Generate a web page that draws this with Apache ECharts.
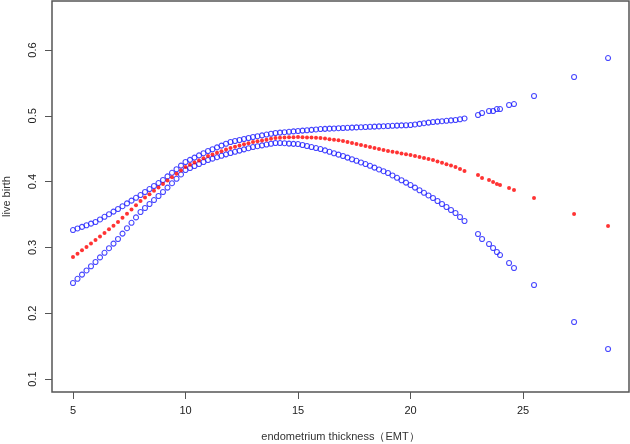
<!DOCTYPE html>
<html>
<head>
<meta charset="utf-8">
<script src="https://cdn.jsdelivr.net/npm/echarts@6/dist/echarts.min.js"></script>
<style>html,body{margin:0;padding:0;background:#fff;}#c{width:630px;height:444px;}</style>
</head>
<body>
<div id="c"></div>
<script>
// EMT values (x)
var emt = [5.0,5.2,5.4,5.6,5.8,6.0,6.2,6.4,6.6,6.8,7.0,7.2,7.4,7.6,7.8,8.0,8.2,8.4,8.6,8.8,
  9.0,9.2,9.4,9.6,9.8,10.0,10.2,10.4,10.6,10.8,11.0,11.2,11.4,11.6,11.8,12.0,12.2,12.4,12.6,12.8,
  13.0,13.2,13.4,13.6,13.8,14.0,14.2,14.4,14.6,14.8,15.0,15.2,15.4,15.6,15.8,16.0,16.2,16.4,16.6,16.8,
  17.0,17.2,17.4,17.6,17.8,18.0,18.2,18.4,18.6,18.8,19.0,19.2,19.4,19.6,19.8,20.0,20.2,20.4,20.6,20.8,
  21.0,21.2,21.4,21.6,21.8,22.0,22.2,22.4,
  23.0,23.18,23.49,23.67,23.84,23.98,24.38,24.6,25.49,27.27,28.78];
// fitted live birth probability (red)
var fit = [.2854,.2905,.2955,.3007,.3060,.3112,.3165,.3220,.3275,.3330,.3386,.3450,.3513,.3577,.3641,.3705,.3757,.3809,.3861,.3912,
  .3964,.4016,.4067,.4119,.4170,.4222,.4256,.4289,.4322,.4356,.4389,.4413,.4438,.4462,.4487,.4511,.4529,.4547,.4566,.4584,
  .4602,.4614,.4626,.4638,.4651,.4663,.4667,.4670,.4673,.4676,.4678,.4675,.4672,.4669,.4666,.4663,.4654,.4645,.4636,.4627,
  .4617,.4602,.4587,.4572,.4556,.4541,.4526,.4511,.4495,.4480,.4465,.4453,.4441,.4428,.4416,.4404,.4389,.4374,.4358,.4343,
  .4328,.4307,.4286,.4264,.4243,.4222,.4192,.4161,
  .4100,.4055,.4024,.3994,.3964,.3948,.3903,.3872,.3751,.3508,.3325];
// upper confidence limit (blue)
var upper = [.3264,.3288,.3312,.3337,.3361,.3386,.3425,.3465,.3505,.3544,.3584,.3626,.3669,.3711,.3754,.3796,.3842,.3887,.3933,.3978,
  .4024,.4079,.4134,.4188,.4243,.4298,.4331,.4365,.4398,.4432,.4465,.4492,.4520,.4547,.4575,.4602,.4617,.4632,.4648,.4663,
  .4678,.4690,.4702,.4715,.4727,.4739,.4745,.4751,.4757,.4763,.4769,.4775,.4781,.4787,.4793,.4799,.4802,.4805,.4808,.4812,
  .4815,.4818,.4821,.4824,.4827,.4830,.4833,.4836,.4839,.4842,.4845,.4848,.4851,.4854,.4857,.4860,.4869,.4878,.4888,.4897,
  .4906,.4912,.4918,.4924,.4930,.4936,.4948,.4960,
  .5012,.5043,.5073,.5073,.5103,.5103,.5164,.5179,.5301,.5590,.5878];
// lower confidence limit (blue)
var lower = [.2459,.2523,.2587,.2650,.2714,.2778,.2848,.2918,.2988,.3058,.3128,.3210,.3292,.3374,.3456,.3538,.3599,.3660,.3720,.3781,
  .3842,.3909,.3976,.4043,.4109,.4176,.4206,.4237,.4267,.4298,.4328,.4349,.4371,.4392,.4414,.4435,.4453,.4471,.4490,.4508,
  .4526,.4538,.4550,.4563,.4575,.4587,.4586,.4584,.4578,.4574,.4571,.4556,.4541,.4525,.4510,.4495,.4474,.4453,.4431,.4410,
  .4389,.4365,.4340,.4316,.4291,.4267,.4240,.4213,.4185,.4158,.4131,.4094,.4058,.4021,.3985,.3948,.3909,.3869,.3830,.3790,
  .3751,.3705,.3660,.3614,.3569,.3523,.3462,.3401,
  .3204,.3128,.3052,.2991,.2930,.2884,.2763,.2687,.2429,.1866,.1456];
var xTicks = [5, 10, 15, 20, 25];
var yTicks = [0.1, 0.2, 0.3, 0.4, 0.5, 0.6];
var xTitle = 'endometrium thickness（EMT）';
var yTitle = 'live birth';

function pairs(ys){ return emt.map(function(x,i){ return [x, ys[i]]; }); }

var chart = echarts.init(document.getElementById('c'), null, {renderer:'canvas'});
var font = 'Liberation Sans, Arial, sans-serif';
chart.setOption({
  animation: false,
  backgroundColor: '#ffffff',
  grid: {left: 52, right: 1, top: 1, bottom: 52, show: true, borderColor: '#555', borderWidth: 1.5,
         backgroundColor: 'transparent', containLabel: false, outerBoundsMode: 'none'},
  xAxis: {
    type: 'value', min: 4.0667, max: 29.711,
    axisLine: {show: false},
    splitLine: {show: false},
    axisTick: {show: true, inside: false, length: 7, lineStyle: {color: '#555', width: 1}, customValues: xTicks},
    axisLabel: {customValues: xTicks, margin: 13, color: '#222', fontSize: 11, fontFamily: font},
    name: xTitle, nameLocation: 'middle', nameGap: 39,
    nameTextStyle: {color: '#333', fontSize: 11, fontFamily: font}
  },
  yAxis: {
    type: 'value', min: 0.08024, max: 0.6745,
    axisLine: {show: false},
    splitLine: {show: false},
    axisTick: {show: true, inside: false, length: 7, lineStyle: {color: '#555', width: 1}, customValues: yTicks},
    axisLabel: {customValues: yTicks, rotate: 90, margin: 14, color: '#222', fontSize: 11, fontFamily: font,
      formatter: function(v){ return (Math.round(v*10)/10).toFixed(1); }},
    name: yTitle, nameLocation: 'middle', nameGap: 40, nameRotate: 90,
    nameTextStyle: {color: '#333', fontSize: 11, fontFamily: font}
  },
  series: [
    {type: 'scatter', data: pairs(upper), symbol: 'circle', symbolSize: 5,
     itemStyle: {color: 'rgba(0,0,0,0)', borderColor: '#1a1aff', borderWidth: 1.1}, z: 2},
    {type: 'scatter', data: pairs(lower), symbol: 'circle', symbolSize: 5,
     itemStyle: {color: 'rgba(0,0,0,0)', borderColor: '#1a1aff', borderWidth: 1.1}, z: 2},
    {type: 'scatter', data: pairs(fit), symbol: 'circle', symbolSize: 4,
     itemStyle: {color: '#ff0000'}, z: 3}
  ]
});
</script>
</body>
</html>
